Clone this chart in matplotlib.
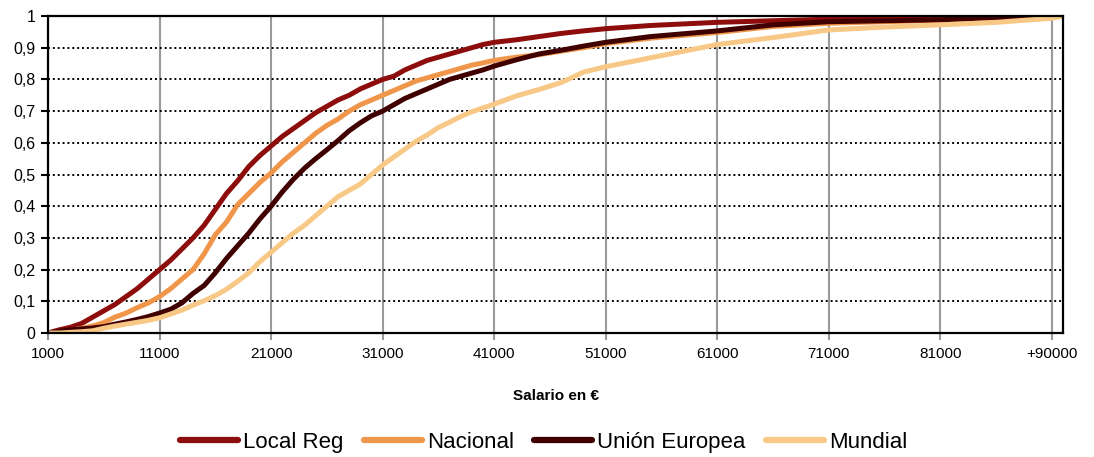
import numpy as np
import matplotlib
matplotlib.use('Agg')
import matplotlib.pyplot as plt

plt.rcParams['font.family'] = ['Liberation Sans', 'DejaVu Sans']

# salario (x) y proporción acumulada de cada ámbito
salario = [1000, 2000, 3000, 4000, 5000, 6000, 7000, 8000, 9000, 10000,
           11000, 12000, 13000, 14000, 15000, 16000, 17000, 18000, 19000, 20000,
           21000, 22000, 23000, 24000, 25000, 26000, 27000, 28000, 29000, 30000,
           31000, 32000, 33000, 34000, 35000, 36000, 37000, 38000, 39000, 40000,
           41000, 43000, 45000, 47000, 49000, 51000, 55000, 61000, 66000, 71000,
           76000, 81000, 86000, 91000, 92000]

local_reg = [0.0, 0.01, 0.018, 0.03, 0.05, 0.07, 0.09, 0.115, 0.14, 0.17,
             0.2, 0.23, 0.265, 0.30, 0.34, 0.39, 0.44, 0.48, 0.525, 0.56,
             0.59, 0.62, 0.645, 0.67, 0.695, 0.715, 0.735, 0.75, 0.77, 0.785,
             0.80, 0.81, 0.83, 0.845, 0.86, 0.87, 0.88, 0.89, 0.90, 0.91,
             0.917, 0.925, 0.935, 0.945, 0.953, 0.96, 0.97, 0.98, 0.985, 0.99,
             0.993, 0.995, 0.998, 1.0, 1.0]

nacional = [0.0, 0.003, 0.008, 0.015, 0.022, 0.033, 0.05, 0.063, 0.08, 0.095,
            0.115, 0.14, 0.17, 0.20, 0.25, 0.31, 0.35, 0.405, 0.44, 0.475,
            0.505, 0.54, 0.57, 0.60, 0.63, 0.655, 0.675, 0.70, 0.72, 0.735,
            0.75, 0.765, 0.78, 0.795, 0.805, 0.815, 0.825, 0.835, 0.845, 0.852,
            0.86, 0.87, 0.878, 0.889, 0.90, 0.913, 0.93, 0.948, 0.967, 0.977,
            0.982, 0.986, 0.993, 0.997, 1.0]

union_europea = [0.0, 0.005, 0.01, 0.013, 0.016, 0.02, 0.028, 0.035, 0.043, 0.052,
                 0.063, 0.075, 0.095, 0.125, 0.15, 0.19, 0.235, 0.275, 0.315, 0.36,
                 0.40, 0.445, 0.485, 0.52, 0.55, 0.578, 0.607, 0.638, 0.663, 0.685,
                 0.70, 0.72, 0.74, 0.755, 0.77, 0.785, 0.80, 0.81, 0.82, 0.83,
                 0.842, 0.862, 0.88, 0.892, 0.905, 0.917, 0.935, 0.953, 0.972, 0.982,
                 0.985, 0.988, 0.995, 0.998, 1.0]

mundial = [0.0, 0.0, 0.002, 0.004, 0.007, 0.015, 0.022, 0.028, 0.034, 0.04,
           0.048, 0.06, 0.072, 0.088, 0.102, 0.118, 0.138, 0.163, 0.19, 0.225,
           0.255, 0.285, 0.315, 0.34, 0.37, 0.40, 0.43, 0.45, 0.47, 0.50,
           0.53, 0.555, 0.58, 0.605, 0.625, 0.648, 0.665, 0.683, 0.698, 0.71,
           0.722, 0.748, 0.768, 0.79, 0.823, 0.84, 0.868, 0.91, 0.932, 0.956,
           0.965, 0.972, 0.98, 0.993, 1.0]

series = ['Local Reg', 'Nacional', 'Unión Europea', 'Mundial']
colores = ['#8C0D0B', '#F0964A', '#400000', '#F8C886']

xticks = [1000, 11000, 21000, 31000, 41000, 51000, 61000, 71000, 81000, 91000]
xlabels = ['1000', '11000', '21000', '31000', '41000', '51000', '61000', '71000', '81000', '+90000']
yticks = np.arange(0, 11) / 10
ylabels = ['0'] + ['0,%d' % i for i in range(1, 10)] + ['1']

fig = plt.figure(figsize=(10.94, 4.57), dpi=100)
ax = fig.add_axes([0.0439, 0.2713, 0.9278, 0.6937])

for nombre, datos, c in zip(series, [local_reg, nacional, union_europea, mundial], colores):
    ax.plot(salario, datos, color=c, lw=3.6, label=nombre, solid_capstyle='round')

ax.set_xlim(1000, 92000)
ax.set_ylim(0, 1)
ax.set_xticks(xticks)
ax.set_xticklabels(xlabels, fontsize=11)
ax.set_yticks(yticks)
ax.set_yticklabels(ylabels, fontsize=11.5)

ax.grid(axis='x', color='#999999', lw=1.5)
ax.grid(axis='y', color='black', lw=1.4, linestyle=(0, (1, 1.5)))
ax.set_axisbelow(True)
for s in ax.spines.values():
    s.set_linewidth(1.6)
ax.tick_params(axis='x', length=5, color='#999999', width=1.5, pad=5)
ax.tick_params(axis='y', length=5, width=1.5, pad=4)

ax.set_xlabel('Salario en €', fontsize=11, fontweight='bold', labelpad=20)

leg = fig.legend(loc='lower center', bbox_to_anchor=(0.497, -0.035), ncol=4, frameon=False,
                 handlelength=2.6, handletextpad=0.25, columnspacing=0.9,
                 prop={'family': ['Liberation Sans Narrow', 'Liberation Sans'], 'size': 16})
for h in leg.get_lines():
    h.set_linewidth(4.5)

fig.savefig('out.png', dpi=100)
